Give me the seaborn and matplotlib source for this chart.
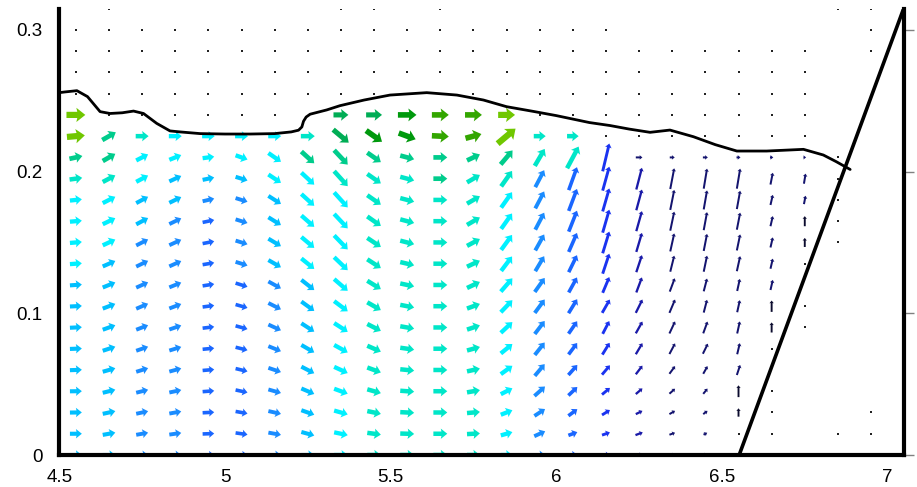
import numpy as np
import pandas as pd
import matplotlib
matplotlib.use("Agg")
import matplotlib.pyplot as plt
import seaborn as sns

# ---------------- grid ----------------
x_cols = [4.55, 4.65, 4.75, 4.85, 4.95, 5.05, 5.15, 5.25, 5.35, 5.45, 5.55, 5.65,
          5.75, 5.85, 5.95, 6.05, 6.15, 6.25, 6.35, 6.45, 6.55, 6.65, 6.75, 6.85, 6.95]
row_step = 0.015

# first wet row of each column that carries vectors
col_start = [0, 0, 0, 0, 0, 0, 0, 0, 0, 0, 0, 0, 0, 0, 0, 0, 0, 0, 0, 0, 2, 6, 10]

# horizontal velocity, one list per column (bottom row upwards)
u_cols = [
    [.36, .36, .36, .36, .36, .36, .36, .36, .36, .36, .36, .36, .36, .38, .39, .54, .57],
    [.38, .38, .38, .38, .38, .38, .38, .38, .38, .38, .38, .38, .38, .38, .38, .41],
    [.36, .36, .36, .36, .36, .36, .36, .36, .36, .36, .36, .36, .36, .36, .36, .39],
    [.36, .36, .36, .36, .36, .36, .36, .36, .36, .36, .36, .36, .36, .36, .36, .39],
    [.35, .35, .35, .35, .35, .35, .35, .35, .35, .35, .35, .35, .35, .35, .35, .38],
    [.36, .36, .36, .36, .36, .36, .36, .36, .36, .36, .36, .36, .36, .36, .36, .39],
    [.38, .38, .38, .38, .38, .38, .38, .38, .38, .38, .38, .38, .38, .38, .38, .39],
    [.39, .39, .39, .39, .39, .39, .39, .39, .39, .39, .39, .39, .39, .39, .39, .42],
    [.41, .41, .41, .41, .41, .41, .41, .41, .41, .41, .41, .41, .41, .41, .41, .47, .45],
    [.41, .41, .41, .41, .41, .41, .41, .41, .41, .41, .41, .41, .41, .41, .41, .48, .48],
    [.42, .42, .42, .42, .42, .42, .42, .42, .42, .42, .42, .42, .42, .42, .42, .51, .56],
    [.42, .42, .42, .42, .42, .42, .42, .42, .42, .42, .42, .42, .42, .42, .42, .51, .51],
    [.39, .39, .39, .39, .39, .39, .39, .39, .39, .39, .39, .39, .39, .39, .39, .48, .51],
    [.35, .35, .35, .35, .35, .35, .35, .35, .35, .33, .33, .33, .33, .33, .36, .54, .51],
    [.33, .33, .32, .32, .30, .30, .30, .30, .30, .27, .27, .27, .27, .27, .30, .36],
    [.27, .27, .27, .27, .27, .26, .26, .26, .25, .25, .25, .25, .25, .25, .35, .35],
    [.24, .24, .24, .24, .24, .22, .20, .23, .20, .20, .20, .20, .20, .20, .20],
    [.22, .22, .20, .20, .20, .20, .20, .20, .17, .17, .17, .17, .17, .17, .20],
    [.17, .17, .17, .17, .17, .17, .17, .17, .15, .12, .12, .12, .12, .12, .15],
    [.11, .11, .13, .13, .13, .15, .13, .10, .10, .10, .10, .10, .10, .10, .15],
    [0, 0, .10, .08, .08, .08, .08, .10, .10, .10, .10, .10, .12],
    [0, 0, .07, .07, .07, .07, .07, .07, .10],
    [0, 0, .05, .05, .08],
]

# vertical velocity, same layout
v_cols = [
    [0, 0, .001, .001, .003, .003, .004, .004, .006, .006, .007, .007, .009, .012, .020, .011, 0],
    [0, .016, .019, .022, .025, .029, .032, .034, .036, .039, .041, .043, .045, .047, .051, .055],
    [0, .015, .018, .021, .026, .029, .032, .036, .038, .041, .043, .045, .045, .045, .043, 0],
    [0, .012, .015, .018, .023, .026, .029, .032, .034, .038, .039, .041, .041, .039, .034, 0],
    [0, .003, .004, .006, .007, .008, .010, .011, .013, .014, .016, .017, .019, .017, .011, 0],
    [0, -.012, -.015, -.018, -.020, -.021, -.023, -.024, -.026, -.026, -.026, -.026, -.026, -.026, -.030, 0],
    [0, -.016, -.020, -.025, -.030, -.036, -.041, -.045, -.049, -.051, -.053, -.055, -.057, -.059, -.062, 0],
    [0, -.025, -.032, -.039, -.047, -.053, -.059, -.066, -.072, -.074, -.077, -.080, -.083, -.085, -.083, 0],
    [0, -.020, -.027, -.035, -.044, -.053, -.062, -.072, -.083, -.092, -.099, -.102, -.106, -.106, -.102, -.092, 0],
    [0, -.013, -.020, -.027, -.035, -.042, -.049, -.055, -.059, -.062, -.064, -.067, -.067, -.067, -.067, -.079, 0],
    [0, -.003, -.005, -.007, -.010, -.014, -.017, -.019, -.021, -.023, -.025, -.026, -.026, -.026, -.026, -.044, 0],
    [0, 0, 0, 0, 0, 0, 0, 0, 0, 0, 0, 0, 0, 0, 0, -.006, 0],
    [0, .005, .008, .016, .020, .025, .030, .033, .043, .043, .049, .053, .053, .053, .043, .030, 0],
    [0, .023, .032, .042, .059, .067, .076, .085, .094, .102, .106, .109, .109, .109, .099, .106, 0],
    [0, .035, .049, .067, .083, .088, .092, .095, .099, .106, .113, .120, .120, .120, .120, 0],
    [0, .023, .047, .060, .071, .081, .088, .099, .106, .120, .134, .148, .155, .162, .153, 0],
    [0, .019, .035, .047, .066, .083, .090, .094, .111, .141, .153, .162, .162, .169, .196],
    [0, .019, .023, .040, .061, .078, .083, .094, .106, .120, .134, .141, .146, .153, 0],
    [0, .014, .023, .035, .054, .075, .085, .094, .094, .113, .127, .134, .141, .146, 0],
    [0, .014, .023, .037, .054, .071, .083, .090, .090, .113, .120, .127, .134, .141, 0],
    [.059, .083, .071, .078, .085, .085, .085, .106, .113, .120, .129, .141, 0],
    [.071, .080, .071, .071, .071, .071, .071, .083, 0],
    [.064, .071, .059, .071, 0],
]

# colour class of each vector, same layout
c_cols = [
    "666666666777789dd", "6666666666777899", "5555555555566778", "5555555555556677",
    "4444444444445677", "4444444445555677", "5555555556666777", "6666666667777798",
    "777777777777789aa", "888888888888889ba", "888888888888889bb", "888888888888899cc",
    "888888888888889cc", "777777777777789dd", "5555555555555588", "4444444444444488",
    "333333333333333", "222222222222221", "111111111111111", "111111111111111",
    "0011111111111", "001111111", "00111",
]

class_colors = {
    "0": "#0b0b2e", "1": "#14146e", "2": "#1a1aa8", "3": "#1a33f0",
    "4": "#1a66ff", "5": "#1a8cff", "6": "#00bfff", "7": "#00f0ff",
    "8": "#00e6c8", "9": "#00cc8c", "a": "#00ad55", "b": "#00990d",
    "c": "#33a600", "d": "#70c700",
}
# shaft width (pixels) of each colour class
class_width = {
    "0": 1.9, "1": 2.0, "2": 2.3, "3": 2.9, "4": 3.6, "5": 3.9, "6": 4.1,
    "7": 4.3, "8": 4.5, "9": 4.7, "a": 5.1, "b": 5.6, "c": 5.6, "d": 6.2,
}

# grid nodes with no flow (rows counted from the bed)
dot_cols = [4.55, 4.65, 4.75, 4.85, 4.95, 5.05, 5.15, 5.25, 5.35, 5.45, 5.55, 5.65, 5.75,
            5.85, 5.95, 6.05, 6.15, 6.25, 6.35, 6.45, 6.55, 6.65, 6.75, 6.85, 6.95]
dot_rows = [
    [17, 18, 19, 20], [16, 17, 18, 19, 20, 21], [16, 17, 18, 19, 20], [16, 17, 18, 19, 20],
    [16, 17, 18, 19, 20], [16, 17, 18, 19, 20], [16, 17, 18, 19, 20], [17, 18, 19, 20],
    [17, 18, 19, 20, 21], [17, 18, 19, 20, 21], [17, 18, 19, 20], [17, 18, 19, 20, 21],
    [17, 18, 19, 20], [17, 18, 19, 20], [16, 17, 18, 19, 20], [16, 17, 18, 19, 20],
    [15, 16, 17, 18, 19, 20], [15, 16, 17, 18, 19], [15, 16, 17, 18, 19], [15, 16, 17, 18, 19],
    [1, 15, 16, 17, 18, 19], [1, 2, 3, 5, 15, 16, 17, 18, 19], [6, 7, 9, 15, 16, 17, 18, 19],
    [1, 10, 11, 12, 13, 14, 21], [1, 2, 19, 20, 21],
]

# free surface
surf_x = [4.50, 4.517, 4.553, 4.585, 4.623, 4.653, 4.69, 4.724, 4.754, 4.794, 4.834, 4.864,
          4.925, 5.0, 5.076, 5.15, 5.20, 5.222, 5.232, 5.237, 5.245, 5.257, 5.307, 5.347,
          5.42, 5.498, 5.609, 5.70, 5.78, 5.85, 5.93, 6.0, 6.10, 6.162, 6.22, 6.283, 6.343,
          6.414, 6.48, 6.545, 6.635, 6.70, 6.746, 6.806, 6.845, 6.887]
surf_y = [0.2557, 0.2562, 0.2571, 0.2529, 0.2423, 0.2410, 0.2415, 0.2427, 0.2410, 0.2340,
          0.2287, 0.2280, 0.2268, 0.2265, 0.2265, 0.2268, 0.2280, 0.2292, 0.2315, 0.2355,
          0.2385, 0.2405, 0.2435, 0.2465, 0.2505, 0.2540, 0.2557, 0.2540, 0.2505, 0.2458,
          0.2425, 0.2395, 0.2346, 0.2325, 0.2300, 0.2277, 0.2293, 0.2246, 0.2190, 0.2145,
          0.2145, 0.2152, 0.2157, 0.2117, 0.2070, 0.2015]

# sloping beach
beach_x = [6.552, 7.05]
beach_y = [0.0, 0.316]

x_ticks = [4.5, 5, 5.5, 6, 6.5, 7]
x_ticklabels = ["4.5", "5", "5.5", "6", "6.5", "7"]
y_ticks = [0, 0.1, 0.2, 0.3]
y_ticklabels = ["0", "0.1", "0.2", "0.3"]

# ---------------- tidy table of vectors ----------------
recs = []
for i, (us, vs, cs) in enumerate(zip(u_cols, v_cols, c_cols)):
    for k, (u, v, c) in enumerate(zip(us, vs, cs)):
        recs.append({"x": x_cols[i], "y": (col_start[i] + k) * row_step, "u": u, "v": v, "cls": c})
vec = pd.DataFrame(recs)

dots = pd.DataFrame([{"x": x, "y": r * row_step} for x, rows in zip(dot_cols, dot_rows) for r in rows])

# ---------------- figure ----------------
sns.set_style("white")
plt.rcParams["font.family"] = ["Liberation Sans", "DejaVu Sans"]

fig = plt.figure(figsize=(9.17, 4.87), dpi=100)
ax = fig.add_axes([0.0647, 0.0657, 0.9213, 0.9166])

for cls, grp in vec.groupby("cls"):
    ax.quiver(grp["x"], grp["y"], grp["u"], grp["v"], color=class_colors[cls],
              angles="xy", scale_units="xy", scale=10, pivot="mid", units="dots",
              width=class_width[cls], headwidth=2.3, headlength=1.45, headaxislength=1.3,
              zorder=2)

sns.scatterplot(data=dots, x="x", y="y", ax=ax, color="#222222", marker="s", s=1.6,
                linewidth=0, zorder=2, legend=False)

sns.lineplot(x=surf_x, y=surf_y, ax=ax, sort=False, estimator=None, color="black",
             linewidth=2.0, zorder=4)
sns.lineplot(x=beach_x, y=beach_y, ax=ax, sort=False, estimator=None, color="black",
             linewidth=2.6, zorder=4)

ax.set_xlim(4.5, 7.05)
ax.set_ylim(0, 0.315)
ax.set_xlabel("")
ax.set_ylabel("")
ax.set_xticks(x_ticks)
ax.set_xticklabels(x_ticklabels)
ax.set_yticks(y_ticks)
ax.set_yticklabels(y_ticklabels)

for side in ("left", "bottom", "right"):
    ax.spines[side].set_visible(True)
    ax.spines[side].set_linewidth(3.0)
    ax.spines[side].set_color("black")
    ax.spines[side].set_zorder(5)
ax.spines["top"].set_visible(False)

ax.tick_params(direction="out", length=7, width=1.0, color="#808080", labelsize=13.5,
               labelcolor="black")
ax.tick_params(axis="y", right=True, labelright=False, pad=5)
ax.tick_params(axis="x", top=False, pad=3)

fig.savefig("out.png", dpi=100)
